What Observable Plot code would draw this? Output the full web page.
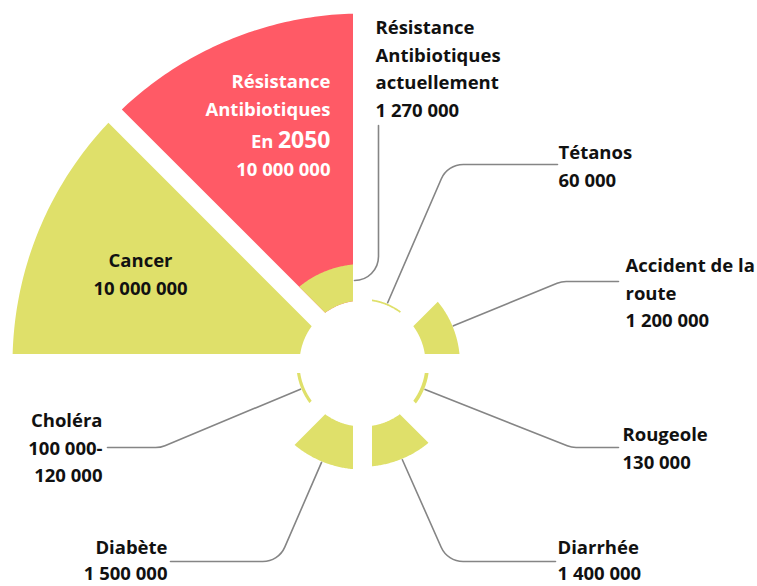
<!DOCTYPE html>
<html>
<head>
<meta charset="utf-8">
<script src="https://cdn.jsdelivr.net/npm/d3@7"></script>
<script src="https://cdn.jsdelivr.net/npm/@observablehq/plot@0.6"></script>
<style>
  html, body { margin: 0; padding: 0; background: #ffffff; }
  svg { display: block; }
</style>
</head>
<body>
<div id="chart"></div>
<script>
// ---------------- DATA ----------------
// clockwise from 12 o'clock, one 45° sector each
const causes = ["Tétanos", "Accident de la route", "Rougeole", "Diarrhée", "Diabète", "Choléra", "Cancer", "Résistance Antibiotiques En 2050"];
const deaths = [60000, 1200000, 130000, 1400000, 1500000, 110000, 10000000, 10000000];
const choleraRange = [100000, 120000];
const currentCause = "Résistance Antibiotiques actuellement";
const currentDeaths = 1270000;
const labelNames = ["Tétanos", "Accident de la\nroute", "Rougeole", "Diarrhée", "Diabète", "Choléra", "Cancer", "Résistance\nAntibiotiques"];
const currentLabelName = "Résistance\nAntibiotiques\nactuellement";
const futureYear = "2050";

// ---------------- LAYOUT / STYLE ----------------
const W = 757, H = 586, CX = 362, CY = 363;           // frame and centre of the rose (pixels)
const px = (x) => x - CX, py = (y) => CY - y;          // pixel reading -> data units
const PAD = 9.5;                                       // half-width of the white gaps
const rScale = d3.scaleLinear().domain([0, 1e7]).range([63, 350]);
const RED = "#FF5A66", YELLOW = "#DFE06A", INK = "#111111", LEAD = "#858585";
const fmt = d3.formatLocale({thousands: " ", grouping: [3], decimal: ","}).format(",d");
const deg = Math.PI / 180;

// ---------------- SECTOR GEOMETRY (data units) ----------------
function sector(key, idx, value, fill) {
  const a0 = idx * 45 * deg, a1 = (idx + 1) * 45 * deg;
  const r = rScale(value), r0 = rScale(0), n = 60, pts = [];
  const o0 = a0 + Math.asin(PAD / r), o1 = a1 - Math.asin(PAD / r);
  const i0 = a0 + Math.asin(PAD / r0), i1 = a1 - Math.asin(PAD / r0);
  for (let t = 0; t <= n; t++) { const a = o0 + (o1 - o0) * t / n; pts.push({key, fill, x: r * Math.sin(a), y: r * Math.cos(a)}); }
  for (let t = 0; t <= n; t++) { const a = i1 - (i1 - i0) * t / n; pts.push({key, fill, x: r0 * Math.sin(a), y: r0 * Math.cos(a)}); }
  return pts;
}
const sectorPts = [];
causes.forEach((c, i) => sectorPts.push(...sector(c, i, deaths[i], i === 7 ? RED : YELLOW)));
sectorPts.push(...sector(currentCause, 7, currentDeaths, YELLOW));

// ---------------- LEADER LINES ----------------
// corner and end of each leader (pixel readings); start is on the sector's outer arc
const leaderLayout = {
  "Tétanos":              {corner: [447, 164], end: [557, 164]},
  "Accident de la route": {corner: [561, 281], end: [618, 281]},
  "Rougeole":             {corner: [571, 447], end: [618, 447]},
  "Diarrhée":             {corner: [447, 561], end: [555, 561]},
  "Diabète":              {corner: [278, 561], end: [170, 561]},
  "Choléra":              {corner: [160, 447], end: [107, 447]}
};
const leaderPts = [];
causes.forEach((c, i) => {
  const L = leaderLayout[c]; if (!L) return;
  const a = (i * 45 + 22.5) * deg, r = rScale(deaths[i]) + 1;
  leaderPts.push({key: c, x: r * Math.sin(a), y: r * Math.cos(a)});
  leaderPts.push({key: c, x: px(L.corner[0]), y: py(L.corner[1])});
  leaderPts.push({key: c, x: px(L.end[0]), y: py(L.end[1])});
});
// current antibiotic-resistance leader: from the sector edge up to its label
[[355, 280], [378, 280], [378, 125]].forEach(([x, y]) => leaderPts.push({key: currentCause, x: px(x), y: py(y)}));

// rounded-corner curve for the leaders
function roundedCorners(radius) {
  return (context) => {
    let pts;
    return {
      areaStart() {}, areaEnd() {},
      lineStart() { pts = []; },
      point(x, y) { pts.push([+x, +y]); },
      lineEnd() {
        if (!pts.length) return;
        context.moveTo(pts[0][0], pts[0][1]);
        for (let k = 1; k < pts.length - 1; k++) context.arcTo(pts[k][0], pts[k][1], pts[k + 1][0], pts[k + 1][1], radius);
        context.lineTo(pts[pts.length - 1][0], pts[pts.length - 1][1]);
      }
    };
  };
}

// ---------------- LABELS ----------------
const labelLayout = {
  "Tétanos":              {x: 558, y: 150, anchor: "start"},
  "Accident de la route": {x: 625, y: 263, anchor: "start"},
  "Rougeole":             {x: 622, y: 432, anchor: "start"},
  "Diarrhée":             {x: 557, y: 545, anchor: "start"},
  "Diabète":              {x: 167, y: 545, anchor: "end"},
  "Choléra":              {x: 102, y: 418, anchor: "end"},
  "Cancer":               {x: 140, y: 258, anchor: "middle"}
};
const LH = 27.5, FS = 18.5;
const labels = [];
causes.forEach((c, i) => {
  const L = labelLayout[c]; if (!L) return;
  const num = c === "Choléra" ? `${fmt(choleraRange[0])}-\n${fmt(choleraRange[1])}` : fmt(deaths[i]);
  const text = `${labelNames[i]}\n${num}`;
  const n = text.split("\n").length;
  const lh = L.y > 500 ? 26.5 : LH;
  labels.push({text, x: px(L.x), y: py(L.y + (n - 1) * lh / 2), anchor: L.anchor, lh: lh / FS});
});
{
  const text = `${currentLabelName}\n${fmt(currentDeaths)}`;
  labels.push({text, x: px(375), y: py(25 + 3 * LH / 2), anchor: "start", lh: LH / FS});
}
// inner labels of the 2050 sector
const inner = [
  {text: labelNames[7].split("\n")[0], x: px(330), y: py(82), size: FS},
  {text: labelNames[7].split("\n")[1], x: px(330), y: py(110), size: FS},
  {text: "En", x: px(273), y: py(141.5), size: FS},
  {text: futureYear, x: px(330), y: py(140.5), size: 23},
  {text: fmt(deaths[7]), x: px(330), y: py(170), size: FS}
];

const textMarks = ["start", "end", "middle"].flatMap(anchor =>
  [...new Set(labels.filter(d => d.anchor === anchor).map(d => d.lh))].map(lh =>
    Plot.text(labels.filter(d => d.anchor === anchor && d.lh === lh), {x: "x", y: "y", text: "text", textAnchor: anchor, lineAnchor: "middle", lineHeight: lh, fontSize: FS, fontWeight: 700, fill: INK})));

// ---------------- PLOT ----------------
const chart = Plot.plot({
  width: W, height: H, margin: 0,
  x: {domain: [px(0), px(W)], axis: null},
  y: {domain: [py(H), py(0)], axis: null},
  color: {type: "identity"},
  style: {fontFamily: "'Open Sans', 'DejaVu Sans', sans-serif", background: "#ffffff", overflow: "visible"},
  marks: [
    Plot.line(sectorPts, {x: "x", y: "y", z: "key", fill: "fill", stroke: "none", curve: "linear"}),
    Plot.line(leaderPts, {x: "x", y: "y", z: "key", stroke: LEAD, strokeWidth: 1.6, curve: roundedCorners(24)}),
    ...textMarks,
    Plot.text(inner.filter(d => d.size === FS), {x: "x", y: "y", text: "text", textAnchor: "end", lineAnchor: "middle", fontSize: FS, fontWeight: 700, fill: "#ffffff"}),
    Plot.text(inner.filter(d => d.size !== FS), {x: "x", y: "y", text: "text", textAnchor: "end", lineAnchor: "middle", fontSize: 23, fontWeight: 700, fill: "#ffffff"})
  ]
});
document.getElementById("chart").appendChild(chart);
</script>
</body>
</html>
